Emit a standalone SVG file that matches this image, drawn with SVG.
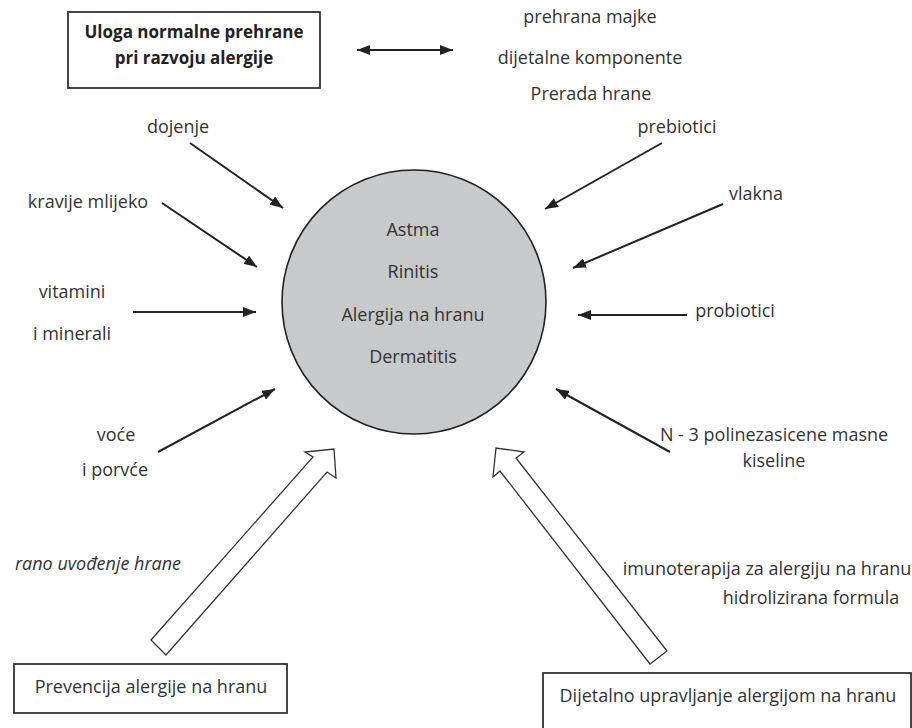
<svg xmlns="http://www.w3.org/2000/svg" width="912" height="728" viewBox="0 0 912 728">
<style>
text{font-family:"Open Sans","Noto Sans","Liberation Sans",sans-serif;font-size:18px;fill:#333;text-anchor:middle}
.b{font-weight:bold;font-size:17px;fill:#222}
.i{font-style:italic}
.box{fill:#fff;stroke:#333;stroke-width:1.8}
.ln{stroke:#222;stroke-width:2;fill:none;marker-end:url(#ah)}
.hollow{fill:#fff;stroke:#333;stroke-width:1.3;stroke-linejoin:miter}
</style>
<defs>
<marker id="ah" markerWidth="13" markerHeight="10" refX="13" refY="5" orient="auto" markerUnits="userSpaceOnUse">
<path d="M0,0 L13,5 L0,10 z" fill="#222"/>
</marker>
<marker id="as" markerWidth="13" markerHeight="10" refX="0" refY="5" orient="auto" markerUnits="userSpaceOnUse">
<path d="M13,0 L0,5 L13,10 z" fill="#222"/>
</marker>
</defs>
<rect width="912" height="728" fill="#fff"/>

<g id="title">
<rect class="box" x="68" y="12" width="252" height="76"/>
<text class="b" x="194" y="38">Uloga normalne prehrane</text>
<text class="b" x="194" y="64">pri razvoju alergije</text>
</g>

<g id="top-right">
<text x="590" y="23">prehrana majke</text>
<text x="590" y="64">dijetalne komponente</text>
<text x="591" y="100">Prerada hrane</text>
</g>

<g id="center">
<circle cx="414" cy="302" r="132" fill="#c8c9ca" stroke="#222" stroke-width="1.6"/>
<text x="413" y="236">Astma</text>
<text x="413" y="278">Rinitis</text>
<text x="413" y="321">Alergija na hranu</text>
<text x="413" y="363">Dermatitis</text>
</g>

<g id="left-labels">
<text x="178" y="133">dojenje</text>
<text x="88" y="208">kravije mlijeko</text>
<text x="72" y="298">vitamini</text>
<text x="72" y="340">i minerali</text>
<text x="116" y="441">voće</text>
<text x="115" y="476">i porvće</text>
<text class="i" x="98" y="570">rano uvođenje hrane</text>
</g>

<g id="right-labels">
<text x="677" y="133">prebiotici</text>
<text x="756" y="200">vlakna</text>
<text x="735" y="317">probiotici</text>
<text x="774" y="441">N - 3 polinezasicene masne</text>
<text x="774" y="467">kiseline</text>
<text x="767" y="575">imunoterapija za alergiju na hranu</text>
<text x="811" y="604">hidrolizirana formula</text>
</g>

<g id="prevention">
<rect class="box" x="14" y="664" width="273" height="49"/>
<text x="151" y="693">Prevencija alergije na hranu</text>
</g>

<g id="management">
<rect class="box" x="543" y="673" width="368" height="70"/>
<text x="728" y="702">Dijetalno upravljanje alergijom na hranu</text>
</g>

<g id="connectors">
<line x1="357" y1="50" x2="453" y2="50" stroke="#222" stroke-width="2" marker-start="url(#as)" marker-end="url(#ah)"/>
<line class="ln" x1="190" y1="143" x2="283" y2="208"/>
<line class="ln" x1="162" y1="203" x2="257" y2="267"/>
<line class="ln" x1="133" y1="312" x2="256" y2="312"/>
<line class="ln" x1="158" y1="452" x2="275" y2="389"/>
<line class="ln" x1="662" y1="143" x2="545" y2="209"/>
<line class="ln" x1="723" y1="204" x2="573" y2="268"/>
<line class="ln" x1="687" y1="315" x2="578" y2="315"/>
<line class="ln" x1="670" y1="452" x2="556" y2="389"/>
<polygon class="hollow" points="151,640 313,457 305,452 334,449 336,478 327,472 166,655"/>
<polygon class="hollow" points="650,664 500,471 493,477 496,448 524,452 516,458 667,651"/>
</g>
</svg>
